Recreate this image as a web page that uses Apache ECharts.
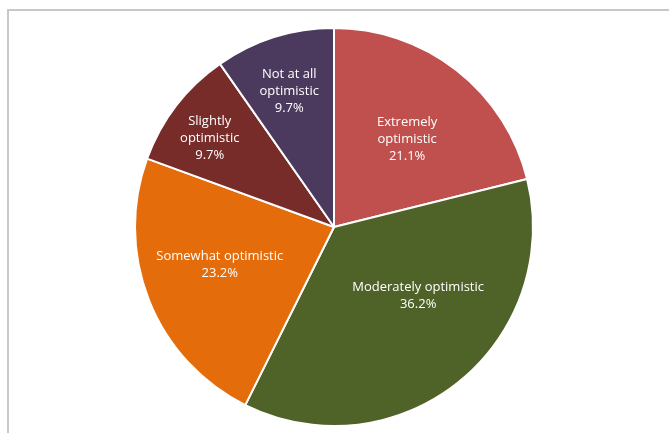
<!DOCTYPE html>
<html><head><meta charset="utf-8">
<script src="https://cdn.jsdelivr.net/npm/echarts@6/dist/echarts.min.js"></script>
<style>html,body{margin:0;padding:0;background:#fff}#c{width:669px;height:433px}</style>
</head><body><div id="c"></div>
<script>
const categories = ['Extremely optimistic','Moderately optimistic','Somewhat optimistic','Slightly optimistic','Not at all optimistic'];
const labelTexts = ['Extremely\noptimistic','Moderately optimistic','Somewhat optimistic','Slightly\noptimistic','Not at all\noptimistic'];
const values = [21.1, 36.2, 23.2, 9.7, 9.7];
const colors = ['#C0504D','#4F6228','#E46C0A','#772C2A','#4B3A5E'];
const labelShift = [[10,-7],[20,-11],[-19,0],[-43,-26],[-14,-38]];

const chart = echarts.init(document.getElementById('c'), null, {renderer:'canvas'});
chart.setOption({
  animation:false,
  graphic:[{type:'rect', shape:{x:8,y:10,width:720,height:480}, style:{fill:'none', stroke:'#c8c8c8', lineWidth:2}, silent:true}],
  series:[{
    type:'pie',
    center:[334,227],
    radius:[0,199],
    startAngle:90,
    clockwise:true,
    data: categories.map((c,i)=>({name:c, value:values[i], itemStyle:{color:colors[i]}})),
    itemStyle:{borderColor:'#fff', borderWidth:2},
    label:{
      show:true, position:'inside', color:'#fff',
      fontFamily:'Open Sans', fontSize:13, lineHeight:17,
      formatter:p=>labelTexts[p.dataIndex]+'\n'+values[p.dataIndex].toFixed(1)+'%'
    },
    labelLayout:p=>({dx:labelShift[p.dataIndex][0], dy:labelShift[p.dataIndex][1]}),
    labelLine:{show:false}
  }]
});
</script></body></html>
